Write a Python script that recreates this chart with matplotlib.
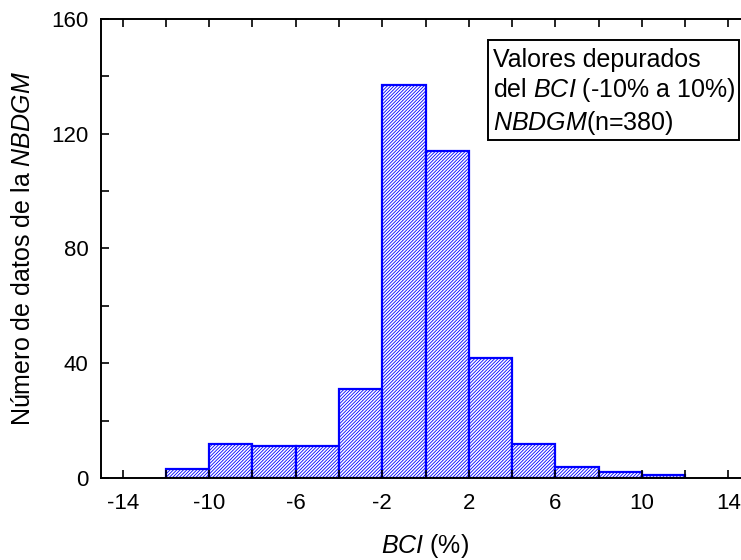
import matplotlib
matplotlib.use("Agg")
import matplotlib.pyplot as plt
from matplotlib.patches import Rectangle
import numpy as np

bin_edges = [-12, -10, -8, -6, -4, -2, 0, 2, 4, 6, 8, 10, 12]
counts = [3, 12, 11, 11, 31, 137, 114, 42, 12, 4, 2, 1]
x_ticks = [-14, -10, -6, -2, 2, 6, 10, 14]
y_ticks = [0, 40, 80, 120, 160]

plt.rcParams['font.family'] = ['Liberation Sans', 'DejaVu Sans']
plt.rcParams['mathtext.fontset'] = 'custom'
plt.rcParams['mathtext.rm'] = 'Liberation Sans'
plt.rcParams['mathtext.it'] = 'Liberation Sans:italic'
plt.rcParams['hatch.linewidth'] = 0.6
plt.rcParams['hatch.color'] = 'blue'

FS = 18
TFS = 16
fig = plt.figure(figsize=(7.41, 5.6), dpi=100)
ax = fig.add_axes([101/741, 82/560, (750-101)/741, (478-19)/560])

lefts = bin_edges[:-1]
widths = np.diff(bin_edges)
ax.bar(lefts, counts, width=widths, align='edge', facecolor='white',
       edgecolor='blue', linewidth=1.6, hatch='//////////')

ax.set_xlim(-15, 15)
ax.set_ylim(0, 160)
ax.set_xticks(x_ticks)
ax.set_xticklabels([str(v) for v in x_ticks])
ax.set_xticks(np.arange(-14, 15, 2), minor=True)
ax.set_yticks(y_ticks)
ax.set_yticklabels([str(v) for v in y_ticks])
ax.set_yticks(np.arange(20, 160, 40), minor=True)

ax.tick_params(axis='both', which='both', direction='in', labelsize=TFS,
               top=True, right=False, width=1.2, colors='black')
ax.tick_params(axis='x', which='major', length=6, pad=11)
ax.tick_params(axis='y', which='major', length=6, pad=9)
ax.tick_params(axis='both', which='minor', length=6)
ax.spines['right'].set_visible(False)
for s in ['left', 'bottom', 'top']:
    ax.spines[s].set_linewidth(1.4)

ax.set_xlabel(r'$\mathit{BCI}$ (%)', fontsize=FS, labelpad=13)
ax.set_ylabel(r'Número de datos de la $\mathit{NBDGM}$', fontsize=FS, labelpad=12)

ax.add_patch(Rectangle((2.91, 117.8), 11.6, 34.9, facecolor='white',
                       edgecolor='black', linewidth=1.4, zorder=5))
ax.text(3.12, 150.0,
        "Valores depurados\n" + r"del $\mathit{BCI}$ (-10% a 10%)" + "\n" + r"$\mathit{NBDGM}$(n=380)",
        fontsize=FS, va='top', ha='left', linespacing=1.22, zorder=6)

fig.savefig('out.png', dpi=100)
